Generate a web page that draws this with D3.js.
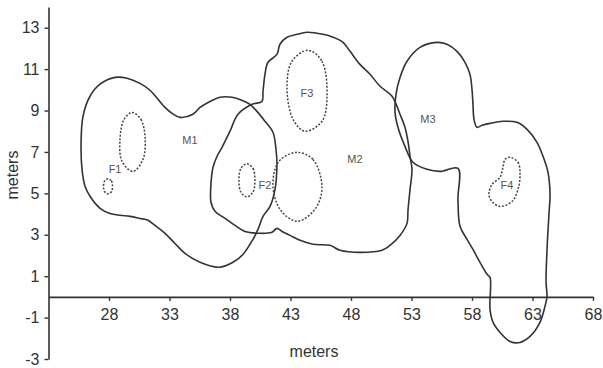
<!DOCTYPE html>
<html>
<head>
<meta charset="utf-8">
<script src="https://cdn.jsdelivr.net/npm/d3@7"></script>
<style>
  body { margin: 0; background: #fff; }
  text { font-family: "Liberation Sans", Arial, sans-serif; }
</style>
</head>
<body>
<div id="chart"></div>
<script>
// tick values
const xTicks = [28, 33, 38, 43, 48, 53, 58, 63, 68];
const yTicks = [-3, -1, 1, 3, 5, 7, 9, 11, 13];

// home range outlines (meters), males solid
const m1 = [[25.69,7.37],[25.85,8.72],[26.43,9.69],[27.26,10.27],[28.50,10.60],[29.49,10.56],[30.56,10.31],[31.39,9.98],[32.05,9.54],[32.63,9.15],[33.21,8.86],[33.87,8.67],[34.94,8.82],[35.52,9.15],[36.35,9.44],[37.17,9.64],[38.17,9.64],[38.99,9.49],[39.65,9.30],[40.23,8.96],[40.89,8.48],[41.55,7.95],[41.80,7.13],[41.88,6.40],[41.72,5.19],[41.31,4.37],[40.73,3.89],[40.31,3.26],[39.90,2.78],[39.07,2.05],[38.25,1.67],[37.09,1.43],[35.52,1.67],[34.28,2.10],[33.45,2.58],[32.63,3.07],[31.80,3.45],[31.22,3.70],[30.56,3.79],[29.74,3.89],[28.91,3.94],[28.08,4.03],[27.26,4.28],[26.43,4.86],[26.02,5.34],[25.77,6.16]];

const m2 = [[39.82,9.30],[40.64,9.44],[40.73,9.93],[40.89,10.75],[41.14,11.33],[41.88,11.71],[42.13,12.20],[42.71,12.54],[43.54,12.68],[44.36,12.78],[45.69,12.68],[46.51,12.54],[47.34,12.29],[47.92,11.86],[48.74,11.23],[49.57,10.75],[50.40,10.17],[51.39,9.69],[52.05,8.82],[52.46,8.19],[52.71,7.51],[52.88,6.79],[53.04,6.16],[52.88,5.19],[52.71,4.18],[52.63,3.55],[52.05,2.97],[51.22,2.49],[50.56,2.25],[48.74,2.15],[47.09,2.25],[46.26,2.49],[44.86,2.54],[43.79,2.73],[42.96,2.97],[42.30,3.16],[41.88,3.31],[41.47,3.12],[40.48,3.07],[39.24,3.16],[38.41,3.45],[37.59,3.79],[36.76,4.13],[36.43,4.57],[36.43,5.48],[36.60,6.26],[36.93,6.79],[37.34,7.22],[38.00,8.00],[38.66,8.82]];

const m3 = [[55.11,12.29],[55.93,12.20],[56.76,11.86],[57.42,11.33],[57.83,10.75],[58.00,10.02],[58.08,9.30],[58.17,8.57],[58.41,8.19],[58.83,8.29],[59.49,8.38],[60.56,8.48],[61.72,8.43],[62.55,8.09],[63.37,7.46],[63.87,6.79],[64.28,6.01],[64.45,4.95],[64.36,3.99],[64.20,2.29],[64.12,0.70],[64.20,0.02],[64.03,-0.46],[63.62,-1.23],[62.79,-1.91],[61.97,-2.20],[61.14,-2.15],[60.31,-1.71],[59.74,-1.23],[59.49,-0.60],[59.49,0.94],[59.24,1.09],[58.66,1.67],[58.08,2.29],[57.59,2.78],[57.01,3.41],[56.84,4.71],[56.84,6.21],[55.36,6.06],[54.28,6.16],[53.12,6.50],[52.46,7.27],[51.88,8.19],[51.64,8.91],[51.72,9.78],[52.05,10.60],[52.63,11.38],[53.70,12.05]];

// females dashed
const f1a = [[29.90,8.91],[30.64,8.57],[30.98,7.71],[30.81,6.64],[29.98,6.06],[29.07,6.55],[28.91,7.61],[29.24,8.57]];
const f1b = [[27.92,5.70],[28.20,5.60],[28.29,5.34],[28.20,5.08],[27.92,4.98],[27.64,5.08],[27.55,5.34],[27.64,5.60]];
const f2a = [[39.40,6.43],[39.90,6.20],[40.06,5.63],[39.90,5.06],[39.40,4.83],[38.90,5.06],[38.74,5.63],[38.90,6.20]];
const f2b = [[43.54,6.98],[44.86,6.64],[45.60,5.29],[45.02,4.23],[43.54,3.65],[42.13,4.23],[41.55,5.43],[42.05,6.55]];
const f3 = [[44.45,11.91],[45.60,11.38],[46.02,9.64],[45.60,8.48],[44.20,8.00],[43.21,8.57],[42.71,10.12],[43.12,11.38]];
const f4 = [[61.14,6.74],[61.80,6.50],[61.97,5.92],[61.80,5.19],[61.31,4.61],[60.31,4.37],[59.65,4.61],[59.40,4.95],[59.65,5.43],[60.31,5.77],[60.56,6.26],[60.73,6.64]];

const labelNames = ["M1", "M2", "M3", "F1", "F2", "F3", "F4"];
const labelX = [34.69, 48.33, 54.36, 28.50, 40.89, 44.36, 60.89];
const labelY = [7.56, 6.64, 8.57, 6.16, 5.39, 9.83, 5.39];

const width = 603, height = 368;

const svg = d3.select("#chart")
  .append("svg")
  .attr("width", width)
  .attr("height", height);

const x = d3.scaleLinear().domain([23, 68]).range([48.5, 593]);
const y = d3.scaleLinear().domain([-3, 14]).range([359, 7]);

const line = d3.line()
  .x(d => x(d[0]))
  .y(d => y(d[1]))
  .curve(d3.curveCatmullRomClosed.alpha(0.5));

// solid male ranges
svg.selectAll(".male")
  .data([m1, m2, m3])
  .enter()
  .append("path")
  .attr("d", line)
  .attr("fill", "none")
  .attr("stroke", "#333")
  .attr("stroke-width", 1.6);

// dashed female ranges
svg.selectAll(".female")
  .data([f1a, f1b, f2a, f2b, f3, f4])
  .enter()
  .append("path")
  .attr("d", line)
  .attr("fill", "none")
  .attr("stroke", "#444")
  .attr("stroke-width", 1.5)
  .attr("stroke-dasharray", "2,1.6");

svg.selectAll(".lbl")
  .data(labelNames)
  .enter()
  .append("text")
  .attr("x", (d, i) => x(labelX[i]))
  .attr("y", (d, i) => y(labelY[i]))
  .attr("dy", "0.35em")
  .attr("text-anchor", "middle")
  .style("font-size", "11px")
  .attr("fill", "#555")
  .text(d => d);

// axes, plain hyphen for negatives like the original
const fmt = d => String(d);

const xAxis = svg.append("g")
  .attr("transform", "translate(0," + y(0) + ")")
  .call(d3.axisBottom(x).tickValues(xTicks).tickFormat(fmt).tickSize(4).tickSizeOuter(0).tickPadding(8));

const yAxis = svg.append("g")
  .attr("transform", "translate(" + x(23) + ",0)")
  .call(d3.axisLeft(y).tickValues(yTicks).tickFormat(fmt).tickSize(4).tickSizeOuter(0).tickPadding(5));

[xAxis, yAxis].forEach(g => {
  g.select(".domain").attr("stroke", "#333").attr("stroke-width", 1.6);
  g.selectAll(".tick line").attr("stroke", "#333").attr("stroke-width", 1.4);
  g.selectAll(".tick text")
    .attr("fill", "#333")
    .style("font-size", "16px")
    .style("font-family", "'Liberation Sans', Arial, sans-serif");
});

svg.append("text")
  .attr("x", 314)
  .attr("y", 357)
  .attr("text-anchor", "middle")
  .attr("fill", "#333")
  .style("font-size", "16px")
  .text("meters");

svg.append("text")
  .attr("transform", "translate(18,175) rotate(-90)")
  .attr("text-anchor", "middle")
  .attr("fill", "#333")
  .style("font-size", "16px")
  .text("meters");
</script>
</body>
</html>
